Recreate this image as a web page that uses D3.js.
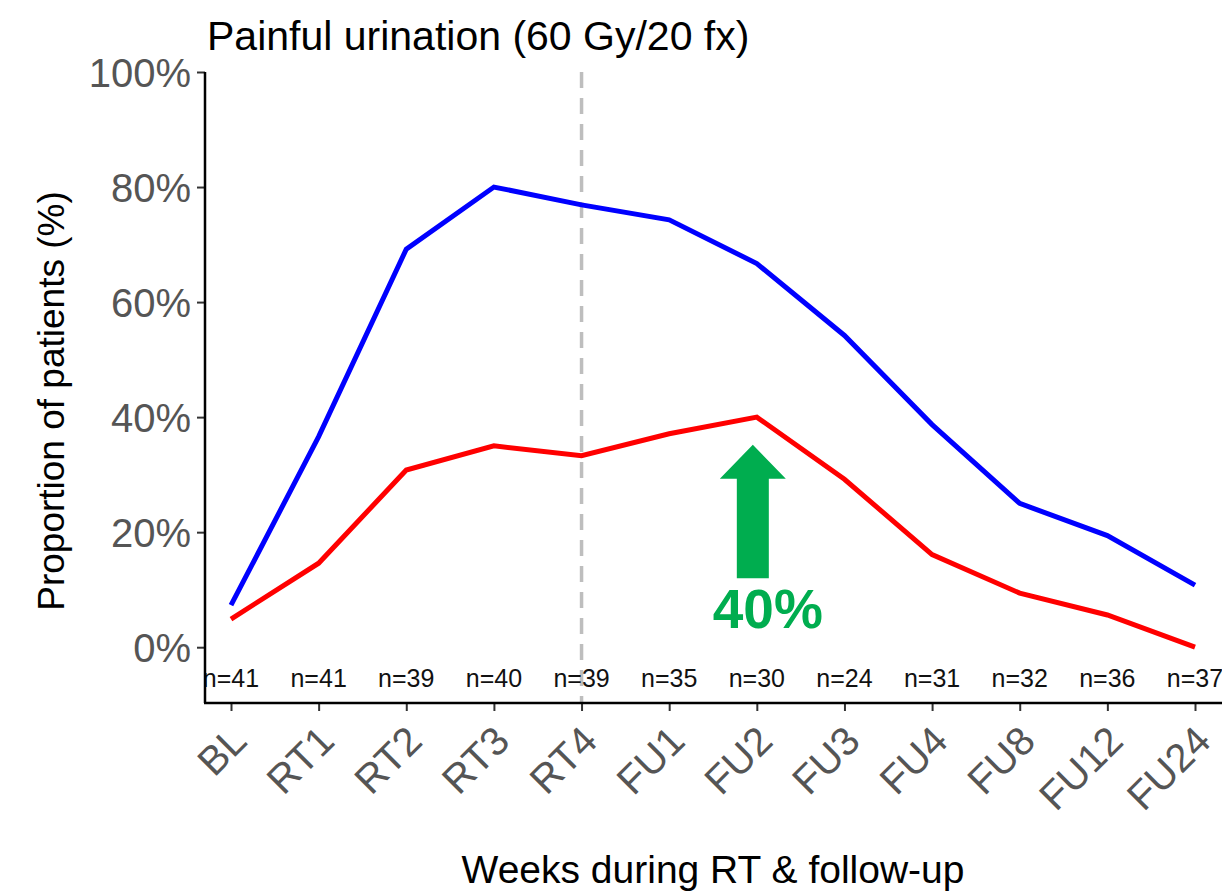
<!DOCTYPE html>
<html>
<head>
<meta charset="utf-8">
<script src="https://cdn.jsdelivr.net/npm/d3@7"></script>
<style>
  body { margin: 0; background: #fff; }
  svg text { font-family: "Liberation Sans", Arial, sans-serif; }
</style>
</head>
<body>
<div class="chart"></div>
<script>
// timepoints and patient counts
var timepoints = ["BL", "RT1", "RT2", "RT3", "RT4", "FU1", "FU2", "FU3", "FU4", "FU8", "FU12", "FU24"];
var n_patients = [41, 41, 39, 40, 39, 35, 30, 24, 31, 32, 36, 37];

// proportions (%)
var any_grade = [7.3, 36.6, 69.2, 80.0, 76.9, 74.3, 66.7, 54.2, 38.7, 25.0, 19.4, 10.8];
var moderate_plus = [4.9, 14.6, 30.8, 35.0, 33.3, 37.1, 40.0, 29.2, 16.1, 9.4, 5.6, 0.0];

var y_ticks = [0, 20, 40, 60, 80, 100];

var width = 1222, height = 893;
var margin = { top: 72, right: 0, bottom: 190, left: 205 };

var svg = d3.select(".chart").append("svg")
  .attr("width", width)
  .attr("height", height);

var x = d3.scalePoint()
  .domain(timepoints)
  .range([231, 1195]);

var y = d3.scaleLinear()
  .domain([-9.7, 100])
  .range([703, 72]);

// clip for the plot panel
svg.append("clipPath").attr("id", "panel")
  .append("rect")
  .attr("x", margin.left).attr("y", margin.top)
  .attr("width", width - margin.left).attr("height", 703 - margin.top);

var panel = svg.append("g").attr("clip-path", "url(#panel)");

// RT4 marker
panel.append("line")
  .attr("x1", x("RT4")).attr("x2", x("RT4"))
  .attr("y1", y(100)).attr("y2", y(-9.7))
  .attr("stroke", "#bebebe")
  .attr("stroke-width", 3.5)
  .attr("stroke-dasharray", "16,10");

var line = d3.line()
  .x(function(d, i) { return x(timepoints[i]); })
  .y(function(d) { return y(d); });

panel.append("path")
  .datum(any_grade)
  .attr("d", line)
  .attr("fill", "none")
  .attr("stroke", "#0000ff")
  .attr("stroke-width", 5);

panel.append("path")
  .datum(moderate_plus)
  .attr("d", line)
  .attr("fill", "none")
  .attr("stroke", "#ff0000")
  .attr("stroke-width", 5);

// n= labels
panel.selectAll(".nlab")
  .data(n_patients)
  .enter().append("text")
  .attr("class", "nlab")
  .attr("x", function(d, i) { return x(timepoints[i]); })
  .attr("y", 687)
  .attr("text-anchor", "middle")
  .attr("font-size", "25px")
  .attr("fill", "#111")
  .text(function(d) { return "n=" + d; });

// axes
var yAxis = svg.append("g")
  .attr("transform", "translate(" + margin.left + ",0)")
  .call(d3.axisLeft(y).tickValues(y_ticks).tickSize(8).tickPadding(6)
    .tickFormat(function(d) { return d + "%"; }));
yAxis.select(".domain").remove();
yAxis.append("line")
  .attr("x1", 0).attr("x2", 0)
  .attr("y1", y(100)).attr("y2", y(-9.7))
  .attr("stroke", "#000").attr("stroke-width", 2.5);
yAxis.selectAll(".tick line").attr("stroke", "#333").attr("stroke-width", 2);
yAxis.selectAll(".tick text")
  .attr("font-size", "40px")
  .attr("fill", "#555")
  .attr("dy", "0.36em");

var xAxis = svg.append("g")
  .attr("transform", "translate(0,703)")
  .call(d3.axisBottom(x).tickSize(8).tickPadding(4));
xAxis.select(".domain").remove();
xAxis.append("line")
  .attr("x1", margin.left - 1).attr("x2", width)
  .attr("y1", 0).attr("y2", 0)
  .attr("stroke", "#000").attr("stroke-width", 2.5);
xAxis.selectAll(".tick line").attr("stroke", "#333").attr("stroke-width", 2);
xAxis.selectAll(".tick text")
  .attr("font-size", "40px")
  .attr("fill", "#555")
  .attr("text-anchor", "end")
  .attr("dy", null)
  .attr("transform", "translate(-3,20) rotate(-45)")
  .attr("y", 0).attr("x", 0)
  .attr("dominant-baseline", "hanging");

// green annotation arrow
var ax = x("FU2") - 4;
var arrow = d3.path();
arrow.moveTo(ax - 16, y(12));
arrow.lineTo(ax + 16, y(12));
arrow.lineTo(ax + 16, y(29.3));
arrow.lineTo(ax + 33, y(29.3));
arrow.lineTo(ax, y(35.2));
arrow.lineTo(ax - 33, y(29.3));
arrow.lineTo(ax - 16, y(29.3));
arrow.closePath();
svg.append("path")
  .attr("d", arrow.toString())
  .attr("fill", "#00ad4f");

svg.append("text")
  .attr("x", ax + 15)
  .attr("y", 628)
  .attr("text-anchor", "middle")
  .attr("font-size", "55px")
  .attr("font-weight", "bold")
  .attr("fill", "#00ad4f")
  .text("40%");

// titles
svg.append("text")
  .attr("x", 207).attr("y", 50)
  .attr("font-size", "41px")
  .attr("fill", "#000")
  .text("Painful urination (60 Gy/20 fx)");

svg.append("text")
  .attr("transform", "translate(64,401) rotate(-90)")
  .attr("text-anchor", "middle")
  .attr("font-size", "37px")
  .attr("fill", "#000")
  .text("Proportion of patients (%)");

svg.append("text")
  .attr("x", 713).attr("y", 883)
  .attr("text-anchor", "middle")
  .attr("font-size", "39px")
  .attr("fill", "#000")
  .text("Weeks during RT & follow-up");
</script>
</body>
</html>
